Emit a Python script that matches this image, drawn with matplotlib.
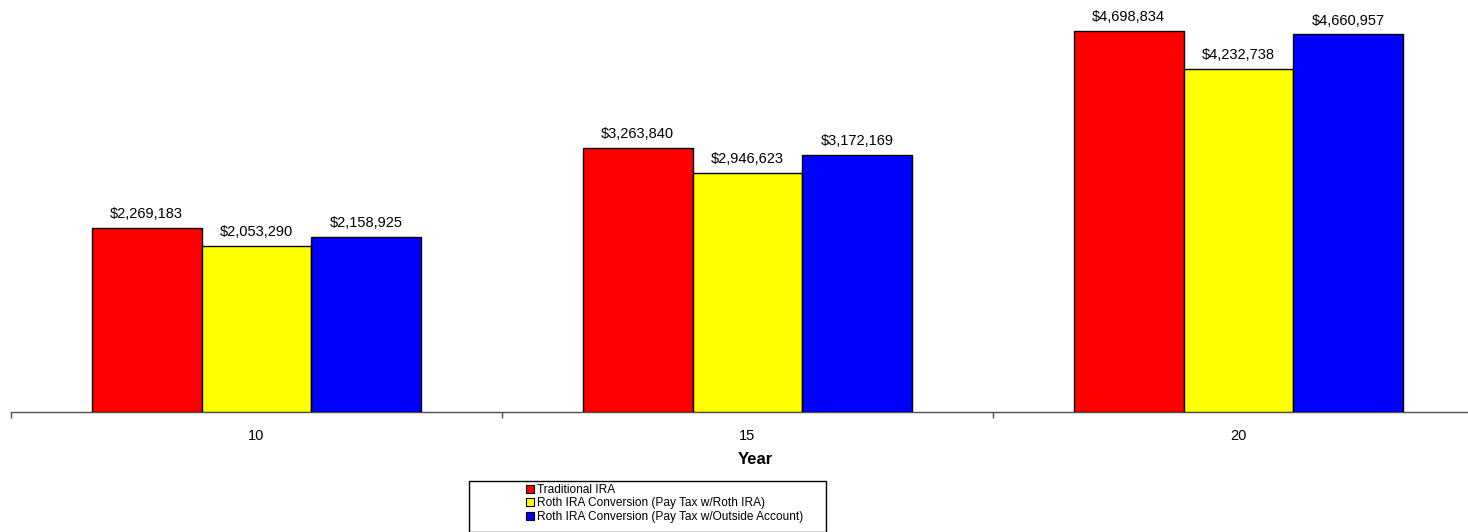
import matplotlib
matplotlib.use("Agg")
import matplotlib.pyplot as plt
from matplotlib.patches import Patch, Rectangle
import numpy as np

plt.rcParams['font.family'] = ['Liberation Sans', 'DejaVu Sans']

years = ["10", "15", "20"]
series_names = [
    "Traditional IRA",
    "Roth IRA Conversion (Pay Tax w/Roth IRA)",
    "Roth IRA Conversion (Pay Tax w/Outside Account)",
]
traditional = [2269183, 3263840, 4698834]
roth_pay_roth = [2053290, 2946623, 4232738]
roth_pay_outside = [2158925, 3172169, 4660957]
colors = ["#ff0000", "#ffff00", "#0000ff"]

W, H = 1468, 532
fig = plt.figure(figsize=(W / 100, H / 100), dpi=100)

# axes: left edge at 11 px, baseline at 412 px, one category slot 491 px wide
left = 11 / W
slot = 491 / W
bottom = 1 - 412 / H
height = 405 / H
ax = fig.add_axes([left, bottom, slot * 3, height])

x = np.arange(len(years))
width = 0.224
all_series = [traditional, roth_pay_roth, roth_pay_outside]
for i, (vals, col) in enumerate(zip(all_series, colors)):
    pos = x + (i - 1) * width
    bars = ax.bar(pos, vals, width=width, color=col, edgecolor="black",
                  linewidth=1.0, zorder=3)
    for b, v in zip(bars, vals):
        ax.annotate(f"${v:,.0f}", (b.get_x() + b.get_width() / 2, v),
                    xytext=(0, 5), textcoords="offset points",
                    ha="center", va="bottom", fontsize=10.5, color="black")

ax.set_xlim(-0.5, 2.5)
ax.set_ylim(0, 5.0e6)
ax.set_yticks([])
for s in ("top", "right", "left"):
    ax.spines[s].set_visible(False)
ax.spines["bottom"].set_color("#505050")
ax.spines["bottom"].set_linewidth(1.0)

ax.set_xticks(x)
ax.set_xticklabels(years, fontsize=10.5)
ax.tick_params(axis="x", which="major", length=0, pad=12)
ax.set_xticks([-0.5, 0.5, 1.5, 2.5], minor=True)
ax.tick_params(axis="x", which="minor", length=4, color="#505050", width=1.0)
ax.set_xlabel("Year", fontsize=12, fontweight="bold")
ax.xaxis.set_label_coords((755 - 11) / (slot * 3 * W), -(452 - 412) / 405)

# legend box
fig.patches.append(Rectangle((469 / W, 0), 357 / W, (532 - 481) / H,
                             transform=fig.transFigure, facecolor="white",
                             edgecolor="black", linewidth=1.0, clip_on=False))
handles = [Patch(facecolor=c, edgecolor="black", linewidth=0.8) for c in colors]
fig.legend(handles, series_names, loc="upper left",
           bbox_to_anchor=(526 / W, 1 - 484 / H), frameon=False,
           fontsize=8.6, handlelength=0.7, handleheight=0.7,
           handletextpad=0.25, labelspacing=0.12, borderpad=0.0,
           borderaxespad=0.0)

fig.savefig("out.png", dpi=100)
